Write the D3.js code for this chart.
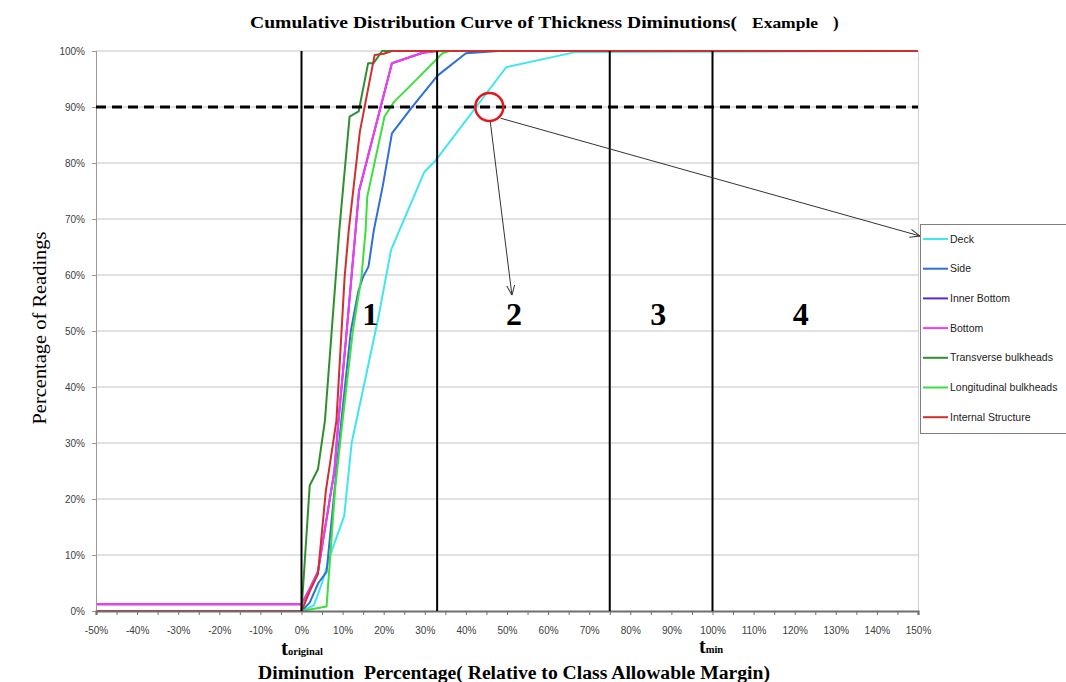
<!DOCTYPE html>
<html><head><meta charset="utf-8">
<script src="https://cdn.jsdelivr.net/npm/d3@7"></script>
<style>body{margin:0;background:#fff;overflow:hidden}</style>
</head><body>
<svg id="chart" width="1066" height="682"></svg>
<script>
// ---------- data ----------
const seriesNames = ["Deck","Side","Inner Bottom","Bottom","Transverse bulkheads","Longitudinal bulkheads","Internal Structure"];
const seriesColors = ["#40e6ee","#2f6fd6","#5a2ad4","#f23cf0","#2f8f2f","#3ddf3d","#cf2f2f"];
// [diminution %, cumulative % of readings]
const deck = [[-50,0],[0,0],[3,1],[5,5],[7,10],[10.4,17],[12.2,30],[18.6,52],[21.8,64.5],[29.9,78.4],[32.7,80.5],[49.8,97.1],[66.6,99.8],[150,100]];
const side = [[-50,0],[0,0],[2,1.5],[4.1,5],[6.1,7],[9.7,34],[12,50],[13.8,57],[15,59.7],[16.3,61.5],[17.6,68],[19.8,76],[22,85.3],[26.7,89.8],[33.1,95.6],[40,99.6],[48,100],[150,100]];
const innerBottom = [[-50,1.2],[0,1.2],[2,4],[4,7],[8,25],[9,34],[11,50],[14,75],[22,97.8],[29.5,99.7],[33,100],[150,100]];
const bottom = [[-50,1.2],[0,1.2],[2,4],[4,7],[8,25],[9,34],[11,50],[14,75],[22,97.8],[29.5,99.7],[33,100],[150,100]];
const transverse = [[-50,0],[0,0],[2,22.4],[4,25.3],[5.7,34],[9.2,68],[11.7,88.3],[13.9,89.2],[16.2,97.8],[17.5,97.8],[19.6,100],[150,100]];
const longitudinal = [[-50,0],[0,0],[6.1,0.8],[8.2,22],[10,34],[12.5,50],[14.6,59.7],[15.6,68],[16,74],[20.2,88.3],[22.6,91],[25,92.7],[34.3,99.6],[36,100],[150,100]];
const internal = [[-50,0],[0,0],[2,3.5],[4,6.6],[5.9,21.3],[8.5,34],[10.5,59.7],[11.5,68],[14.2,85.6],[17.8,99.3],[20,99.5],[22,100],[150,100]];
const seriesData = [deck, side, innerBottom, bottom, transverse, longitudinal, internal];

const xTickValues = d3.range(-50, 151, 5);
const xLabelValues = d3.range(-50, 151, 10);
const yTickValues = d3.range(0, 101, 10);
const zoneLines = [0, 33, 75, 100];
const zoneLabels = ["1", "2", "3", "4"];
const zoneLabelX = [16.7, 51.7, 86.8, 121.5];
const thresholdPct = 90;
const markerPoint = [45.7, 90];      // red circle: Deck reaching 90%
const arrowDownEnd = [51.2, 56.4];   // arrow towards zone 2

// ---------- layout ----------
const svg = d3.select("#chart");
const L = 96, R = 918, T = 51, B = 611;
const x = d3.scaleLinear().domain([-50, 150]).range([L, R]);
const y = d3.scaleLinear().domain([0, 100]).range([B, T]);

// gridlines
svg.append("g").selectAll("line").data(yTickValues.filter(d => d > 0)).join("line")
  .attr("x1", L).attr("x2", R).attr("y1", d => y(d)).attr("y2", d => y(d))
  .attr("stroke", "#c4c4c4").attr("stroke-width", 1);
// right border
svg.append("line").attr("x1", R + 0.5).attr("x2", R + 0.5).attr("y1", T).attr("y2", B)
  .attr("stroke", "#d0d0d0");

// series
const line = d3.line().x(d => x(d[0])).y(d => y(d[1]));
svg.append("g").selectAll("path").data(seriesData).join("path")
  .attr("d", line).attr("fill", "none")
  .attr("stroke", (d, i) => seriesColors[i]).attr("stroke-width", 2)
  .attr("stroke-linejoin", "round");

// y axis
const yAxis = d3.axisLeft(y).tickValues(yTickValues).tickSize(4).tickPadding(7).tickFormat(d => d + "%");
const gy = svg.append("g").attr("transform", `translate(${L},0)`).call(yAxis);
gy.select(".domain").attr("stroke", "#9a9a9a");
gy.selectAll(".tick line").attr("stroke", "#9a9a9a");
gy.selectAll(".tick text").attr("font-family", "Liberation Sans, Arial, sans-serif").attr("font-size", 10).attr("fill", "#404040");

// x axis (drawn over the flat zero segments)
const xAxis = d3.axisBottom(x).tickValues(xTickValues).tickSize(4).tickPadding(12)
  .tickFormat(d => xLabelValues.includes(d) ? d + "%" : "");
const gx = svg.append("g").attr("transform", `translate(0,${B})`).call(xAxis);
gx.select(".domain").attr("stroke", "#6f6f6f").attr("stroke-width", 2.2);
gx.selectAll(".tick line").attr("stroke", "#6f6f6f");
gx.selectAll(".tick text").attr("font-family", "Liberation Sans, Arial, sans-serif").attr("font-size", 10).attr("fill", "#404040");

// zone lines
svg.append("g").selectAll("line").data(zoneLines).join("line")
  .attr("x1", d => x(d)).attr("x2", d => x(d)).attr("y1", y(100)).attr("y2", y(0))
  .attr("stroke", "#000").attr("stroke-width", 2);

// threshold dashed line
svg.append("line").attr("x1", L).attr("x2", R).attr("y1", y(thresholdPct)).attr("y2", y(thresholdPct))
  .attr("stroke", "#000").attr("stroke-width", 3).attr("stroke-dasharray", "10,6");

// zone labels
svg.append("g").selectAll("text").data(zoneLabels).join("text")
  .attr("x", (d, i) => x(zoneLabelX[i])).attr("y", y(51))
  .attr("text-anchor", "middle").attr("font-family", "Liberation Serif, Times New Roman, serif")
  .attr("font-weight", "bold").attr("font-size", 32).attr("fill", "#000").text(d => d);

// legend
const legX = 920, legY = 224, legH = 209, legStep = 29.7;
const leg = svg.append("g");
leg.append("rect").attr("x", legX + 0.5).attr("y", legY + 0.5).attr("width", 160).attr("height", legH)
  .attr("fill", "#fff").attr("stroke", "#7f7f7f");
const items = leg.selectAll("g").data(seriesNames).join("g")
  .attr("transform", (d, i) => `translate(0,${legY + 15 + i * legStep})`);
items.append("line").attr("x1", legX + 3).attr("x2", legX + 28).attr("y1", 0).attr("y2", 0)
  .attr("stroke", (d, i) => seriesColors[i]).attr("stroke-width", 2);
items.append("text").attr("x", legX + 30).attr("y", 3.5).attr("font-family", "Liberation Sans, Arial, sans-serif")
  .attr("font-size", 10.5).attr("fill", "#222").text(d => d);

// arrow marker
const defs = svg.append("defs");
defs.append("marker").attr("id", "arr").attr("viewBox", "0 0 10 10").attr("refX", 10).attr("refY", 5)
  .attr("markerWidth", 10).attr("markerHeight", 10).attr("markerUnits", "userSpaceOnUse").attr("orient", "auto")
  .append("path").attr("d", "M0,1 L10,5 L0,9").attr("fill", "none").attr("stroke", "#333").attr("stroke-width", 1);

const cx = x(markerPoint[0]), cy = y(markerPoint[1]), cr = 14;
svg.append("line").attr("x1", cx + 1).attr("y1", cy + cr + 1)
  .attr("x2", x(arrowDownEnd[0])).attr("y2", y(arrowDownEnd[1]))
  .attr("stroke", "#333").attr("stroke-width", 1).attr("marker-end", "url(#arr)");
svg.append("line").attr("x1", cx + cr * 0.8).attr("y1", cy + cr * 0.8)
  .attr("x2", legX).attr("y2", legY + 12)
  .attr("stroke", "#333").attr("stroke-width", 1).attr("marker-end", "url(#arr)");
svg.append("circle").attr("cx", cx).attr("cy", cy).attr("r", cr)
  .attr("fill", "none").attr("stroke", "#e4161b").attr("stroke-width", 2.5);

// titles
const serif = "Liberation Serif, Times New Roman, serif";
svg.append("text").attr("x", 250).attr("y", 28).attr("font-family", serif).attr("font-weight", "bold")
  .attr("font-size", 17).attr("textLength", 487).attr("lengthAdjust", "spacingAndGlyphs")
  .text("Cumulative Distribution Curve of Thickness Diminutions(");
svg.append("text").attr("x", 752).attr("y", 28).attr("font-family", serif).attr("font-weight", "bold")
  .attr("font-size", 14).attr("textLength", 66).attr("lengthAdjust", "spacingAndGlyphs").text("Example");
svg.append("text").attr("x", 833).attr("y", 28).attr("font-family", serif).attr("font-weight", "bold")
  .attr("font-size", 17).text(")");

svg.append("text").attr("x", 258).attr("y", 679).attr("font-family", serif).attr("font-weight", "bold")
  .attr("font-size", 18).attr("textLength", 512).attr("lengthAdjust", "spacingAndGlyphs")
  .attr("xml:space", "preserve")
  .text("Diminution  Percentage( Relative to Class Allowable Margin)");

svg.append("text").attr("transform", "translate(46,328) rotate(-90)").attr("text-anchor", "middle")
  .attr("font-family", serif).attr("font-size", 19).attr("textLength", 193).attr("lengthAdjust", "spacingAndGlyphs")
  .text("Percentage of Readings");

// t_original and t_min
const tOrig = svg.append("text").attr("x", 281).attr("y", 655).attr("font-family", serif).attr("font-weight", "bold");
tOrig.append("tspan").attr("font-size", 21).text("t");
tOrig.append("tspan").attr("font-size", 10.5).text("original");
const tMin = svg.append("text").attr("x", 699).attr("y", 653).attr("font-family", serif).attr("font-weight", "bold");
tMin.append("tspan").attr("font-size", 20).text("t");
tMin.append("tspan").attr("font-size", 10.5).text("min");
</script>
</body></html>
